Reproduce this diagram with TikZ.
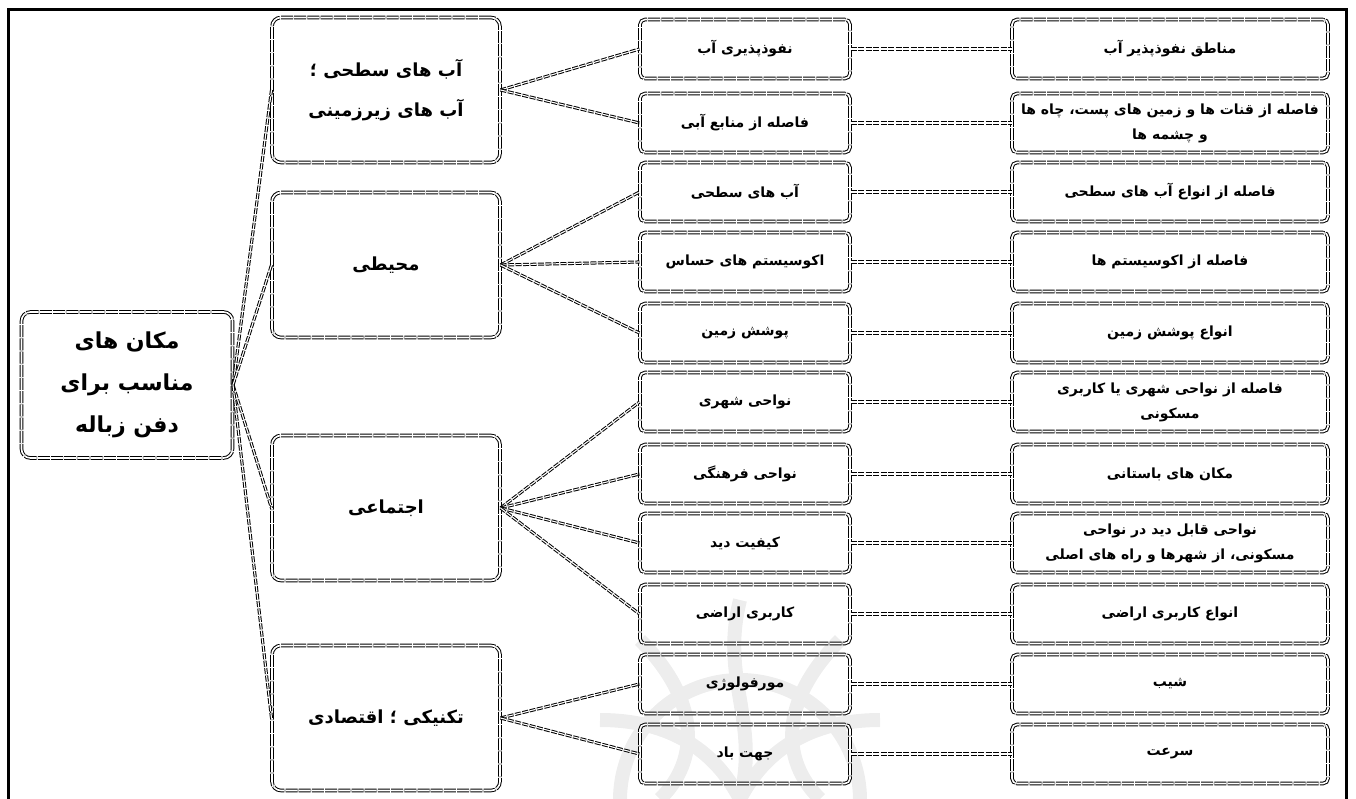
\documentclass[tikz,border=0pt]{standalone}
\usepackage{fontspec}
\newfontfamily\fa[Script=Arabic]{DejaVu Sans}
\TeXXeTstate=1
\newcommand\fr[1]{{\fa\bfseries\beginR #1\endR}}
\begin{document}
\begin{tikzpicture}[x=1pt,y=-1pt,
  box/.style={draw, line width=1pt, double, double distance=1.6pt, rounded corners=9pt,
     dash pattern=on 12pt off 1.2pt, align=center, inner sep=2pt},
  rootbox/.style={box, minimum width=211pt, minimum height=146pt, font=\fontsize{22}{42}\selectfont},
  lonebox/.style={box, minimum width=228pt, minimum height=145pt, font=\fontsize{18}{40}\selectfont},
  ltwobox/.style={box, rounded corners=5pt, minimum width=210pt, minimum height=59pt, font=\fontsize{14}{24}\selectfont},
  lthreebox/.style={box, rounded corners=5pt, minimum width=316pt, minimum height=59pt, font=\fontsize{14}{25}\selectfont},
  link/.style={draw, line width=1pt, double, double distance=1.1pt, dash pattern=on 6pt off 1.5pt},
  frameline/.style={line width=3pt}
]
\useasboundingbox (0,0) rectangle (1356,799);
% faint watermark
\begin{scope}[gray!14, line width=14pt]
  \clip (560,580) rectangle (920,799);
  \draw (740,800) circle (120);
  \draw (640,640) .. controls (700,700) and (700,760) .. (660,799);
  \draw (840,640) .. controls (780,700) and (780,760) .. (820,799);
  \draw (740,600) .. controls (720,680) and (760,720) .. (740,799);
  \draw (600,720) .. controls (680,720) and (720,760) .. (740,799);
  \draw (880,720) .. controls (800,720) and (760,760) .. (740,799);
\end{scope}
% frame
\draw[frameline] (8,799) -- (8,9.5) -- (1346,9.5) -- (1346,799);

% root
\node[rootbox] (root) at (127,385) {\fr{مکان های}\\\fr{مناسب برای}\\\fr{دفن زباله}};

% level 1
\node[lonebox] (a) at (386,90) {\fr{آب های سطحی ؛}\\\fr{آب های زیرزمینی}};
\node[lonebox] (b) at (386,265) {\fr{محیطی}};
\node[lonebox] (c) at (386,508) {\fr{اجتماعی}};
\node[lonebox] (d) at (386,718) {\fr{تکنیکی ؛ اقتصادی}};

% level 2
\node[ltwobox] (m1) at (745,49) {\fr{نفوذپذیری آب}};
\node[ltwobox] (m2) at (745,123) {\fr{فاصله از منابع آبی}};
\node[ltwobox] (m3) at (745,192) {\fr{آب های سطحی}};
\node[ltwobox] (m4) at (745,262) {\fr{اکوسیستم های حساس}};
\node[ltwobox] (m5) at (745,333) {\fr{پوشش زمین}};
\node[ltwobox] (m6) at (745,402) {\fr{نواحی شهری}};
\node[ltwobox] (m7) at (745,474) {\fr{نواحی فرهنگی}};
\node[ltwobox] (m8) at (745,543) {\fr{کیفیت دید}};
\node[ltwobox] (m9) at (745,614) {\fr{کاربری اراضی}};
\node[ltwobox] (m10) at (745,684) {\fr{مورفولوژی}};
\node[ltwobox] (m11) at (745,754) {\fr{جهت باد}};

% level 3
\node[lthreebox] (r1) at (1170,49) {\fr{مناطق نفوذپذیر آب}};
\node[lthreebox] (r2) at (1170,123) {\fr{فاصله از قنات ها و زمین های پست، چاه ها}\\\fr{و چشمه ها}};
\node[lthreebox] (r3) at (1170,192) {\fr{فاصله از انواع آب های سطحی}};
\node[lthreebox] (r4) at (1170,262) {\fr{فاصله از اکوسیستم ها}};
\node[lthreebox] (r5) at (1170,333) {\fr{انواع پوشش زمین}};
\node[lthreebox] (r6) at (1170,402) {\fr{فاصله از نواحی شهری یا کاربری}\\\fr{مسکونی}};
\node[lthreebox] (r7) at (1170,474) {\fr{مکان های باستانی}};
\node[lthreebox] (r8) at (1170,543) {\fr{نواحی قابل دید در نواحی}\\\fr{مسکونی، از شهرها و راه های اصلی}};
\node[lthreebox] (r9) at (1170,614) {\fr{انواع کاربری اراضی}};
\node[lthreebox] (r10) at (1170,684) {\fr{شیب}};
\node[lthreebox] (r11) at (1170,754) {\fr{سرعت}};

% connectors
\foreach \t in {a,b,c,d} \draw[link] (root.east) -- (\t.west);
\foreach \t in {m1,m2} \draw[link] (a.east) -- (\t.west);
\foreach \t in {m3,m4,m5} \draw[link] (b.east) -- (\t.west);
\foreach \t in {m6,m7,m8,m9} \draw[link] (c.east) -- (\t.west);
\foreach \t in {m10,m11} \draw[link] (d.east) -- (\t.west);
\foreach \i in {1,...,11} \draw[link] (m\i.east) -- (r\i.west);
\end{tikzpicture}
\end{document}
